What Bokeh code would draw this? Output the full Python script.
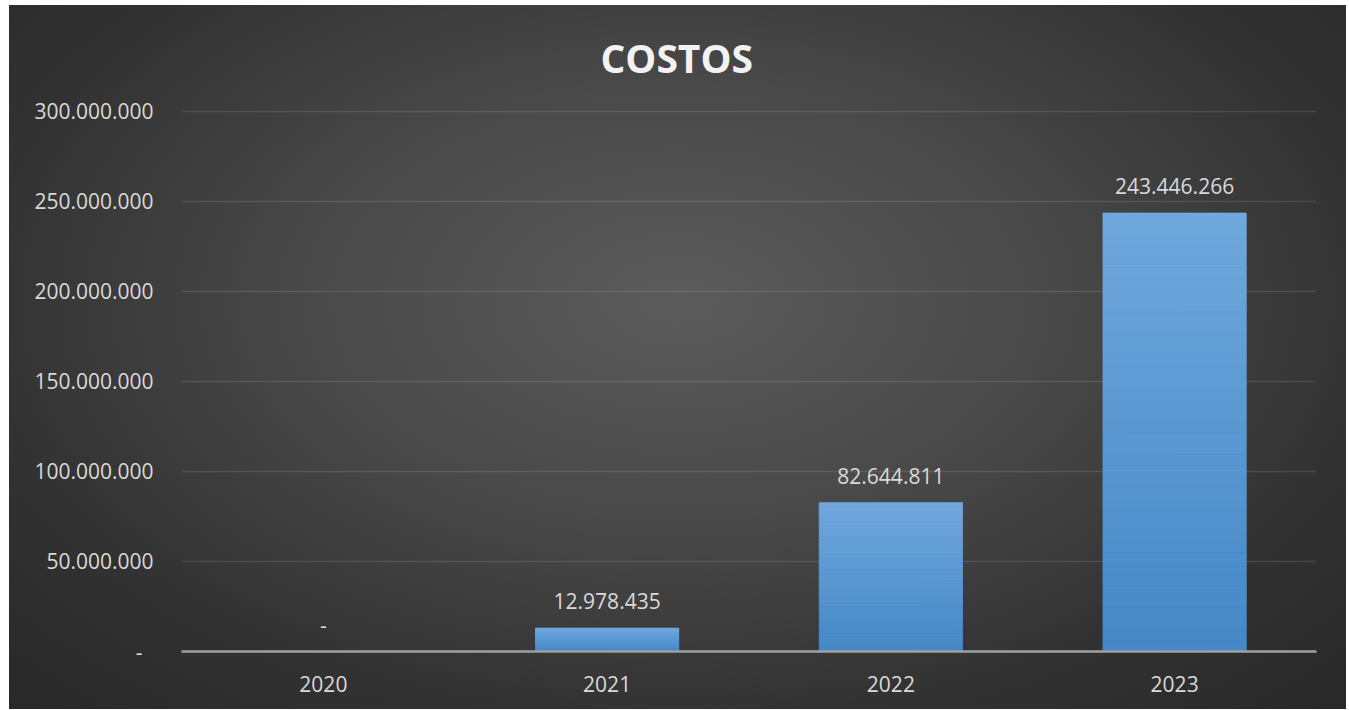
from bokeh.plotting import figure
from bokeh.models import ColumnDataSource, LabelSet, CustomJSTickFormatter, FixedTicker, Range1d, InlineStyleSheet
from bokeh.core.properties import value
from bokeh.embed import file_html
from bokeh.resources import INLINE

# ---- data ----
years = ["2020", "2021", "2022", "2023"]
costos = [0, 12978435, 82644811, 243446266]
y_ticks = [0, 50000000, 100000000, 150000000, 200000000, 250000000, 300000000]
title_text = "COSTOS"


def fmt(v):
    return "-" if v == 0 else f"{v:,}".replace(",", ".")


def mix(c1, c2, t):
    a = [int(c1[i:i + 2], 16) for i in (1, 3, 5)]
    b = [int(c2[i:i + 2], 16) for i in (1, 3, 5)]
    return "#" + "".join(f"{round(a[j] + (b[j] - a[j]) * t):02x}" for j in range(3))


BOTTOM_C = "#4488c7"
TOP_C = "#70a8dd"
BAR_W = 0.505
FONT = "Open Sans"
FS = "21px"

p = figure(
    x_range=years, y_range=Range1d(0, 300400000),
    width=1346, height=709,
    output_backend="svg", toolbar_location=None,
    min_border_left=181, min_border_right=30,
    min_border_top=110, min_border_bottom=58,
)
p.stylesheets = [InlineStyleSheet(css=""":host{
  background-color:#ffffff;
  background-image: radial-gradient(ellipse 75% 85% at 50% 42%, #5b5b5b 0%, #4a4a4a 35%, #323232 70%, #262626 100%);
  background-repeat:no-repeat;
  background-position: 9px 5px;
  background-size: 1337px 704px;
}""")]
p.background_fill_color = None
p.border_fill_color = None
p.outline_line_color = None

# gradient bars built from strips of each value
N = 40
xs, bots, tops, cols = [], [], [], []
for yr, v in zip(years, costos):
    if v <= 0:
        continue
    for k in range(N):
        xs.append(yr)
        bots.append(v * k / N)
        tops.append(v * (k + 1) / N)
        cols.append(mix(BOTTOM_C, TOP_C, (k + 0.5) / N))
strip_src = ColumnDataSource(dict(x=xs, bottom=bots, top=tops, color=cols))
p.vbar(x="x", bottom="bottom", top="top", width=BAR_W, source=strip_src,
       fill_color="color", line_color="color", line_width=0.8)

# data labels
lab_src = ColumnDataSource(dict(x=years, y=costos, text=[fmt(v) for v in costos]))
labels = LabelSet(x="x", y="y", text="text", source=lab_src, text_align="center",
                  text_baseline="alphabetic", y_offset=19,
                  text_font=value(FONT), text_font_size=value(FS), text_color="#d9d9d9")
p.add_layout(labels)

# title
p.title.text = title_text
p.title.align = "left"
p.title.offset = 419
p.title.standoff = 53
p.title.text_font = FONT
p.title.text_font_style = "bold"
p.title.text_font_size = "39px"
p.title.text_color = "#f2f2f2"

# axes
p.yaxis.ticker = FixedTicker(ticks=y_ticks)
p.yaxis.formatter = CustomJSTickFormatter(code="""
if (tick == 0) { return '-\\u00a0\\u00a0'; }
return Math.round(tick).toString().replace(/\\B(?=(\\d{3})+(?!\\d))/g, '.');
""")
p.yaxis.axis_line_color = None
p.yaxis.major_tick_line_color = None
p.yaxis.minor_tick_line_color = None
p.yaxis.major_tick_out = 0
p.yaxis.minor_tick_out = 0
p.yaxis.major_label_standoff = 28
p.yaxis.major_label_text_font = FONT
p.yaxis.major_label_text_font_size = FS
p.yaxis.major_label_text_color = "#d9d9d9"

p.xaxis.axis_line_color = "#a0a0a0"
p.xaxis.axis_line_width = 2.5
p.xaxis.major_tick_line_color = None
p.xaxis.minor_tick_line_color = None
p.xaxis.major_tick_out = 0
p.xaxis.minor_tick_out = 0
p.xaxis.major_label_standoff = 24
p.xaxis.major_label_text_font = FONT
p.xaxis.major_label_text_font_size = FS
p.xaxis.major_label_text_color = "#d9d9d9"

p.xgrid.grid_line_color = None
p.ygrid.grid_line_color = "#ffffff"
p.ygrid.grid_line_alpha = 0.11
p.ygrid.grid_line_width = 1.3

p.x_range.range_padding = 0.0

open("out.html", "w").write(file_html(p, INLINE))
